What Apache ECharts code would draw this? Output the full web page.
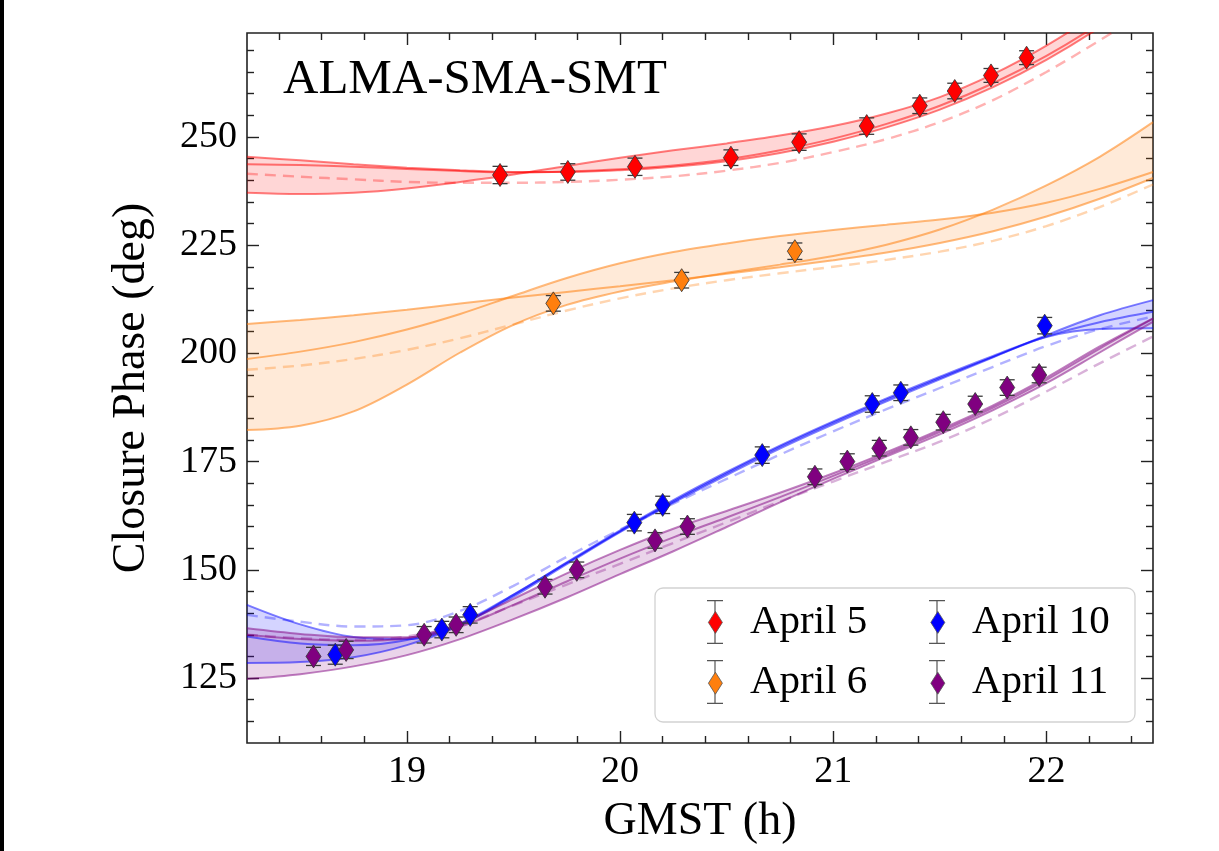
<!DOCTYPE html>
<html><head><meta charset="utf-8">
<script src="https://cdn.jsdelivr.net/npm/echarts@6/dist/echarts.min.js"></script>
<style>html,body{margin:0;padding:0;background:#fff}#c{width:1219px;height:851px}</style>
</head><body><div id="c"></div>
<script>
// ---------- data ----------
const xGrid = [18.25,18.5,18.75,19.0,19.25,19.5,19.75,20.0,20.25,20.5,20.75,21.0,21.25,21.5,21.75,22.0,22.25,22.5];

// April 5 (red) model curves
const apr5FitA = [245.4,244.6,243.7,242.9,242.3,241.9,241.9,242.3,243.1,244.4,246.3,248.9,252.2,256.3,261.5,267.8,275.3,284.0];
const apr5FitB = [243.7,243.5,243.1,242.6,242.1,241.8,242.0,242.5,243.4,244.8,246.9,249.6,253.0,257.2,262.4,268.7,276.2,284.8];
const apr5FitC = [237.1,236.8,237.1,238.1,239.6,241.3,243.3,245.2,246.9,248.5,250.3,252.5,255.4,259.2,264.5,271.1,278.9,287.9];
const apr5Dash = [241.5,240.8,240.2,239.6,239.4,239.4,239.6,240.1,240.9,242.2,244.0,246.5,249.5,253.4,258.5,265.0,272.3,280.0];
// April 6 (orange)
const apr6FitA = [206.8,207.7,208.8,210.1,211.5,212.9,214.2,215.5,216.9,218.4,219.9,221.5,223.3,225.5,228.2,231.6,235.7,240.5];
const apr6FitB = [198.7,200.4,202.6,205.5,209.1,213.3,217.4,220.8,223.4,225.4,227.1,228.5,229.7,230.9,232.5,234.8,238.0,241.9];
const apr6FitC = [182.3,183.3,186.6,192.8,200.2,206.6,211.2,214.3,216.6,218.6,220.5,222.5,225.1,228.6,233.2,238.8,245.4,253.4];
const apr6Dash = [196.2,197.2,198.7,200.8,203.5,206.7,209.9,212.7,215.0,216.9,218.5,220.0,221.6,223.5,226.0,229.4,233.8,239.0];
// April 10 (blue)
const apr10FitA = [141.9,137.4,134.5,134.0,137.4,144.2,151.7,159.1,166.1,172.6,178.7,184.3,189.6,194.6,199.4,203.8,205.6,205.8];
const apr10FitB = [134.6,133.0,132.6,133.8,137.6,144.3,151.6,158.9,165.8,172.3,178.4,184.0,189.3,194.3,199.2,203.9,207.2,209.6];
const apr10FitC = [128.5,128.7,129.8,132.6,137.2,143.8,151.3,158.7,165.5,171.9,178.0,183.6,188.9,194.0,199.1,204.2,208.8,212.3];
const apr10Dash = [139.6,138.0,136.9,137.2,140.5,146.3,153.0,159.3,165.3,171.0,176.6,182.0,187.1,192.0,196.9,201.7,205.6,208.5];
// April 11 (purple)
const apr11FitA = [136.5,135.2,134.4,134.4,136.9,141.9,147.3,152.6,157.5,162.1,166.8,171.7,176.7,181.9,187.5,193.9,201.1,208.0];
const apr11FitB = [135.0,134.0,133.6,134.2,137.6,143.3,149.2,154.6,159.5,163.6,167.8,172.3,177.2,182.4,188.0,194.4,201.6,208.1];
const apr11FitC = [124.8,125.9,127.7,130.3,134.0,138.6,143.6,149.0,154.3,159.9,165.6,171.0,176.2,181.3,186.9,193.1,200.2,207.3];
const apr11Dash = [135.0,134.2,133.8,134.6,137.2,141.8,146.6,151.4,156.2,161.0,165.8,170.4,175.0,179.6,185.0,191.2,197.7,203.9];

// measured closure phases
const apr5X = [19.437,19.755,20.07,20.52,20.84,21.157,21.406,21.57,21.74,21.907];
const apr5Y = [241.2,241.9,243.1,245.2,248.8,252.5,257.2,260.6,264.2,268.3];
const apr5E = [2.0,1.9,2.0,1.8,1.9,1.9,1.8,1.8,1.6,1.6];
const apr6X = [19.687,20.289,20.82];
const apr6Y = [211.55,216.9,223.6];
const apr6E = [1.8,1.8,1.9];
const apr10X = [18.664,19.164,19.297,20.067,20.2,20.667,21.183,21.317,21.992];
const apr10Y = [130.4,136.2,139.6,160.9,165.0,176.5,188.3,190.9,206.4];
const apr10E = [2.2,1.9,1.9,1.9,2.0,1.9,1.9,1.8,1.9];
const apr11X = [18.562,18.715,19.081,19.231,19.648,19.797,20.164,20.316,20.914,21.066,21.216,21.364,21.516,21.666,21.816,21.966];
const apr11Y = [130.0,131.5,135.0,137.3,146.1,150.0,156.8,160.0,171.5,175.0,178.1,180.6,184.1,188.3,192.1,195.0];
const apr11E = [2.1,2.0,1.9,1.8,1.7,1.8,1.8,1.8,1.8,1.8,1.8,1.8,1.8,1.8,1.8,1.8];

// axes / ticks
const xMajorTicks = [19,20,21,22];
const xMinorTicks = [18.4,18.6,18.8,19.2,19.4,19.6,19.8,20.2,20.4,20.6,20.8,21.2,21.4,21.6,21.8,22.2,22.4];
const yMajorTicks = [125,150,175,200,225,250];
const yMinorTicks = [115,120,130,135,140,145,155,160,165,170,180,185,190,195,205,210,215,220,230,235,240,245,255,260,265,270];
const legendNames = ['April 5','April 10','April 6','April 11'];

// ---------- chart ----------
const FONT = "'Liberation Serif','Times New Roman',serif";
const X_MIN = 18.25, X_MAX = 22.5, Y_MIN = 110, Y_MAX = 274;
const SMOOTH = 0.35;

function pairs(xs, ys) { return xs.map((x, i) => [x, ys[i]]); }
function pairsYX(xs, ys) { return xs.map((x, i) => [ys[i], x]); }
function triples(xs, ys, es) { return xs.map((x, i) => [x, ys[i], es[i]]); }

function bandSeries(id, fits, rgb, alpha) {
  const lo = xGrid.map((_, i) => Math.min(...fits.map(f => f[i])));
  const hi = xGrid.map((_, i) => Math.max(...fits.map(f => f[i])));
  const common = {type:'line', stack:id, symbol:'none', smooth:SMOOTH, silent:true, z:1,
    encode:{x:1, y:0}, lineStyle:{opacity:0, width:0}};
  return [
    Object.assign({}, common, {name:id+' lo', data:pairsYX(xGrid, lo)}),
    Object.assign({}, common, {name:id+' hi', data:pairsYX(xGrid, hi.map((h, i) => h - lo[i])),
      areaStyle:{color:'rgba('+rgb+','+alpha+')', opacity:1}})
  ];
}
function lineSeries(name, ys, rgb, alpha, dashed) {
  return {type:'line', name, data:pairs(xGrid, ys), symbol:'none', smooth:SMOOTH, silent:true, z:2,
    lineStyle:{color:'rgba('+rgb+','+alpha+')', width:dashed ? 2.4 : 2.0, type:dashed ? [11,7] : 'solid'}};
}
function errRender(params, api) {
  const x = api.value(0), y = api.value(1), e = api.value(2);
  const p1 = api.coord([x, y + e]), p2 = api.coord([x, y - e]);
  const hw = 7.5, st = {stroke:'#3a3a3a', lineWidth:1.3};
  return {type:'group', children:[
    {type:'line', shape:{x1:p1[0], y1:p1[1], x2:p2[0], y2:p2[1]}, style:st},
    {type:'line', shape:{x1:p1[0]-hw, y1:p1[1], x2:p1[0]+hw, y2:p1[1]}, style:st},
    {type:'line', shape:{x1:p2[0]-hw, y1:p2[1], x2:p2[0]+hw, y2:p2[1]}, style:st}
  ]};
}
function dateSeries(name, fits, dash, xs, ys, es, rgb, marker, lineAlpha, bandAlpha, dashAlpha) {
  return [
    ...bandSeries(name + ' band', fits, rgb, bandAlpha),
    ...fits.map((f, k) => lineSeries(name + ' fit' + k, f, rgb, lineAlpha, false)),
    lineSeries(name + ' mean', dash, rgb, dashAlpha, true),
    {type:'custom', name:name + ' err', data:triples(xs, ys, es), renderItem:errRender, z:3, silent:true},
    {type:'scatter', name, data:pairs(xs, ys), symbol:'diamond', symbolSize:[15,23], z:4, silent:true,
      itemStyle:{color:marker, borderColor:'#333', borderWidth:0.8, opacity:1}}
  ];
}

function xAxisDef(position, ticks, len, labels, withName) {
  const a = {type:'value', gridIndex:0, position, min:X_MIN, max:X_MAX,
    axisLine:{show:false}, splitLine:{show:false}, minorTick:{show:false},
    axisTick:{show:true, inside:true, length:len, customValues:ticks, lineStyle:{color:'#222', width:1.4}},
    axisLabel: labels ? {show:true, customValues:ticks, margin:10, fontSize:38, fontFamily:FONT, color:'#000'} : {show:false}};
  if (withName) Object.assign(a, {name:'GMST (h)', nameLocation:'middle', nameGap:56,
    nameTextStyle:{fontSize:46, fontFamily:FONT, color:'#000'}});
  return a;
}
function yAxisDef(position, ticks, len, labels, withName) {
  const a = {type:'value', gridIndex:0, position, min:Y_MIN, max:Y_MAX,
    axisLine:{show:false}, splitLine:{show:false}, minorTick:{show:false},
    axisTick:{show:true, inside:true, length:len, customValues:ticks, lineStyle:{color:'#222', width:1.4}},
    axisLabel: labels ? {show:true, customValues:ticks, margin:10, fontSize:38, fontFamily:FONT, color:'#000'} : {show:false}};
  if (withName) Object.assign(a, {name:'Closure Phase (deg)', nameLocation:'middle', nameGap:92, nameRotate:90,
    nameTextStyle:{fontSize:46, fontFamily:FONT, color:'#000'}});
  return a;
}

// legend icons: both share a 16x44 bounding box so they overlay exactly
const ERR_ICON = 'path://M0,0h16v1.2h-16zM7.4,0h1.2v44h-1.2zM0,42.8h16v1.2h-16z';
const DIA_ICON = 'path://M0,0L0,0M16,44L16,44M8,11L15,22L8,33L1,22Z';
const legendText = {fontSize:41, fontFamily:FONT, lineHeight:44};
const legendBase = {orient:'horizontal', left:655, top:588, width:440, itemWidth:60, itemHeight:44,
  itemGap:16, selectedMode:false, padding:[12,0,18,52], formatter:'{t|{name}}'};

const option = {
  animation:false,
  backgroundColor:'#fff',
  title:{text:'ALMA-SMA-SMT', left:283, top:56, padding:0,
    textStyle:{fontFamily:FONT, fontSize:49, fontWeight:'normal', color:'#000'}},
  grid:{left:247, top:33, width:906, height:710, show:true, borderColor:'#222', borderWidth:1.6,
    backgroundColor:'transparent', outerBoundsMode:'none'},
  legend:[
    Object.assign({}, legendBase, {z:10, backgroundColor:'rgba(255,255,255,0.85)', borderColor:'#d2d2d2',
      borderWidth:1.3, borderRadius:8,
      textStyle:Object.assign({color:'#000', rich:{t:Object.assign({width:163, color:'#000'}, legendText)}}, legendText),
      data:legendNames.map(n => ({name:n, icon:ERR_ICON, itemStyle:{color:'#555', borderWidth:0}}))}),
    Object.assign({}, legendBase, {z:11,
      textStyle:Object.assign({color:'rgba(0,0,0,0)', rich:{t:Object.assign({width:163, color:'rgba(0,0,0,0)'}, legendText)}}, legendText),
      data:legendNames.map(n => ({name:n, icon:DIA_ICON, itemStyle:{borderColor:'#555', borderWidth:0.8}}))})
  ],
  xAxis:[
    xAxisDef('bottom', xMajorTicks, 12, true, true),
    xAxisDef('bottom', xMinorTicks, 7, false, false),
    xAxisDef('top', xMajorTicks, 12, false, false),
    xAxisDef('top', xMinorTicks, 7, false, false)
  ],
  yAxis:[
    yAxisDef('left', yMajorTicks, 12, true, true),
    yAxisDef('left', yMinorTicks, 7, false, false),
    yAxisDef('right', yMajorTicks, 12, false, false),
    yAxisDef('right', yMinorTicks, 7, false, false)
  ],
  graphic:[{type:'rect', left:0, top:0, shape:{width:4, height:851}, style:{fill:'#000'}, silent:true}],
  series:[
    ...dateSeries('April 5', [apr5FitA, apr5FitB, apr5FitC], apr5Dash, apr5X, apr5Y, apr5E, '255,0,0', '#ff0000', 0.5, 0.16, 0.3),
    ...dateSeries('April 6', [apr6FitA, apr6FitB, apr6FitC], apr6Dash, apr6X, apr6Y, apr6E, '255,127,14', '#ff7f0e', 0.55, 0.16, 0.33),
    ...dateSeries('April 10', [apr10FitA, apr10FitB, apr10FitC], apr10Dash, apr10X, apr10Y, apr10E, '0,0,255', '#0000ff', 0.5, 0.17, 0.3),
    ...dateSeries('April 11', [apr11FitA, apr11FitB, apr11FitC], apr11Dash, apr11X, apr11Y, apr11E, '128,0,128', '#800080', 0.5, 0.17, 0.3)
  ]
};
const chart = echarts.init(document.getElementById('c'), null, {renderer:'canvas'});
chart.setOption(option);
</script>
</body></html>
